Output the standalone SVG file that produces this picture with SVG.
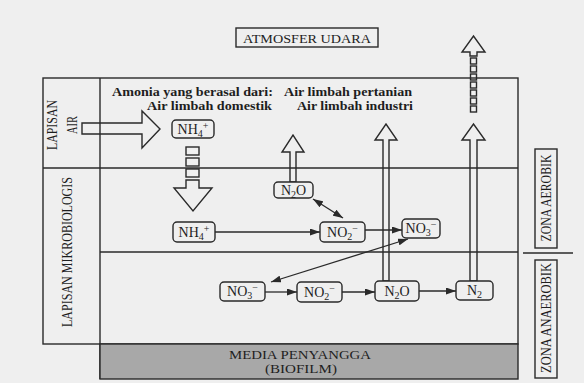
<svg xmlns="http://www.w3.org/2000/svg" width="584" height="383" viewBox="0 0 584 383">
<defs>
<style>
.bg{fill:#efefef}
.ln{stroke:#2a2a2a;stroke-width:1.4;fill:none}
.box{fill:#efefef;stroke:#2a2a2a;stroke-width:1.4}
.hol{fill:none;stroke:#2a2a2a;stroke-width:1.4;stroke-linejoin:miter}
.t{font-family:"Liberation Serif","DejaVu Serif",serif;fill:#1e1e1e}
.n{font-size:14px;text-anchor:middle}
.s{font-size:10px}
.arr{stroke:#2a2a2a;stroke-width:1.3;fill:none}
</style>
<marker id="ah" viewBox="0 0 10 7" refX="10" refY="3.5" markerWidth="10" markerHeight="7" markerUnits="userSpaceOnUse" orient="auto-start-reverse">
<path d="M0,0 L10,3.5 L0,7 z" fill="#2a2a2a"/>
</marker>
</defs>
<rect class="bg" x="0" y="0" width="584" height="383"/>

<g id="frame">
<rect class="ln" x="43" y="78" width="475" height="266"/>
<line class="ln" x1="100" y1="78" x2="100" y2="379"/>
<line class="ln" x1="43" y1="168" x2="518" y2="168"/>
<line class="ln" x1="100" y1="252" x2="518" y2="252"/>
</g>

<g id="media">
<rect x="100" y="344" width="418" height="35" fill="#a8a8a8" stroke="#2a2a2a" stroke-width="1.4"/>
<text class="t" x="300" y="359" font-size="13" text-anchor="middle" textLength="142" lengthAdjust="spacingAndGlyphs">MEDIA PENYANGGA</text>
<text class="t" x="301" y="373" font-size="13" text-anchor="middle" textLength="72" lengthAdjust="spacingAndGlyphs">(BIOFILM)</text>
</g>

<g id="atmosfer">
<rect class="box" x="236" y="28" width="142" height="19"/>
<text class="t" x="307" y="43" font-size="13.5" text-anchor="middle" textLength="128" lengthAdjust="spacingAndGlyphs">ATMOSFER UDARA</text>
</g>

<g id="lapisan-air">
<text class="t" transform="translate(57,125) rotate(-90)" font-size="15" text-anchor="middle" textLength="50" lengthAdjust="spacingAndGlyphs">LAPISAN</text>
<text class="t" transform="translate(77,125) rotate(-90)" font-size="15" text-anchor="middle" textLength="18" lengthAdjust="spacingAndGlyphs">AIR</text>
</g>

<g id="lapisan-mikro">
<text class="t" transform="translate(72,252) rotate(-90)" font-size="15" text-anchor="middle" textLength="150" lengthAdjust="spacingAndGlyphs">LAPISAN MIKROBIOLOGIS</text>
</g>

<g id="sumber">
<text class="t" x="112" y="96" font-size="13.5" font-weight="bold" textLength="161" lengthAdjust="spacingAndGlyphs">Amonia yang berasal dari:</text>
<text class="t" x="147" y="110" font-size="13.5" font-weight="bold" textLength="125" lengthAdjust="spacingAndGlyphs">Air limbah domestik</text>
<text class="t" x="284" y="96" font-size="13.5" font-weight="bold" textLength="128" lengthAdjust="spacingAndGlyphs">Air limbah pertanian</text>
<text class="t" x="297" y="110" font-size="13.5" font-weight="bold" textLength="116" lengthAdjust="spacingAndGlyphs">Air limbah industri</text>
</g>

<g id="zona-aerobik">
<rect class="box" x="535" y="149" width="22" height="99"/>
<text class="t" transform="translate(551,198) rotate(-90)" font-size="14" text-anchor="middle" textLength="87" lengthAdjust="spacingAndGlyphs">ZONA AEROBIK</text>
</g>
<line class="ln" x1="523" y1="253" x2="573" y2="253"/>
<g id="zona-anaerobik">
<rect class="box" x="535" y="260" width="22" height="118"/>
<text class="t" transform="translate(551,318) rotate(-90)" font-size="14" text-anchor="middle" textLength="110" lengthAdjust="spacingAndGlyphs">ZONA ANAEROBIK</text>
</g>

<g id="connectors">
<polygon class="hol" points="82,123 142,123 142,111 160,129 142,148 142,134 82,134"/>
<rect class="hol" x="186" y="147" width="13" height="8"/>
<rect class="hol" x="186" y="158" width="13" height="8"/>
<rect class="hol" x="186" y="169" width="13" height="8"/>
<polygon class="hol" points="186,180 199,180 199,188 212,188 193,211 174,188 186,188"/>
<polygon class="hol" points="290,182 290,152 282,152 293,135 304,152 296,152 296,182"/>
<polygon class="hol" points="383,281 383,140 375,140 386,124 397,140 389,140 389,281"/>
<polygon class="hol" points="470,281 470,140 462,140 473.5,124 485,140 477,140 477,281"/>
<polygon class="hol" points="470,56 470,52 462,52 473.5,36 485,52 477,52 477,56"/>
<rect class="hol" x="470.5" y="58" width="6" height="6"/>
<rect class="hol" x="470.5" y="66" width="6" height="6"/>
<rect class="hol" x="470.5" y="74" width="6" height="6"/>
<rect class="hol" x="470.5" y="82" width="6" height="6"/>
<rect class="hol" x="470.5" y="90" width="6" height="6"/>
<rect class="hol" x="470.5" y="98" width="6" height="6"/>
<rect class="hol" x="470.5" y="106" width="6" height="6"/>
<line class="arr" x1="215" y1="232" x2="320" y2="232" marker-end="url(#ah)"/>
<line class="arr" x1="365" y1="230" x2="402" y2="230" marker-end="url(#ah)"/>
<line class="arr" x1="313" y1="199" x2="343" y2="218" marker-start="url(#ah)" marker-end="url(#ah)"/>
<line class="arr" x1="408" y1="239" x2="271" y2="282" marker-start="url(#ah)" marker-end="url(#ah)"/>
<line class="arr" x1="265" y1="292" x2="297" y2="292" marker-end="url(#ah)"/>
<line class="arr" x1="342" y1="292" x2="375" y2="292" marker-end="url(#ah)"/>
<line class="arr" x1="419" y1="291" x2="456" y2="291" marker-end="url(#ah)"/>
</g>

<g id="nh4-air">
<rect class="box" x="172" y="120" width="42" height="18" rx="4"/>
<text class="t n" x="193" y="134">NH<tspan class="s" dy="3">4</tspan><tspan class="s" dy="-8">+</tspan></text>
</g>
<g id="nh4-bio">
<rect class="box" x="173" y="222" width="42" height="20" rx="4"/>
<text class="t n" x="194" y="237">NH<tspan class="s" dy="3">4</tspan><tspan class="s" dy="-8">+</tspan></text>
</g>
<g id="n2o-aer">
<rect class="box" x="274" y="182" width="39" height="16" rx="4"/>
<text class="t n" x="293.5" y="195">N<tspan class="s" dy="3">2</tspan><tspan dy="-3">O</tspan></text>
</g>
<g id="no2-aer">
<rect class="box" x="320" y="222" width="45" height="20" rx="4"/>
<text class="t n" x="342.5" y="237">NO<tspan class="s" dy="3">2</tspan><tspan class="s" dy="-8">−</tspan></text>
</g>
<g id="no3-aer">
<rect class="box" x="402" y="219" width="38" height="19" rx="4"/>
<text class="t n" x="421" y="233">NO<tspan class="s" dy="3">3</tspan><tspan class="s" dy="-8">−</tspan></text>
</g>
<g id="no3-an">
<rect class="box" x="220" y="282" width="45" height="19" rx="4"/>
<text class="t n" x="242.5" y="296">NO<tspan class="s" dy="3">3</tspan><tspan class="s" dy="-8">−</tspan></text>
</g>
<g id="no2-an">
<rect class="box" x="297" y="282" width="45" height="20" rx="4"/>
<text class="t n" x="319.5" y="297">NO<tspan class="s" dy="3">2</tspan><tspan class="s" dy="-8">−</tspan></text>
</g>
<g id="n2o-an">
<rect class="box" x="375" y="281" width="44" height="20" rx="4"/>
<text class="t n" x="397" y="296">N<tspan class="s" dy="3">2</tspan><tspan dy="-3">O</tspan></text>
</g>
<g id="n2">
<rect class="box" x="456" y="281" width="37" height="19" rx="4"/>
<text class="t n" x="474.5" y="295">N<tspan class="s" dy="3">2</tspan></text>
</g>
</svg>
